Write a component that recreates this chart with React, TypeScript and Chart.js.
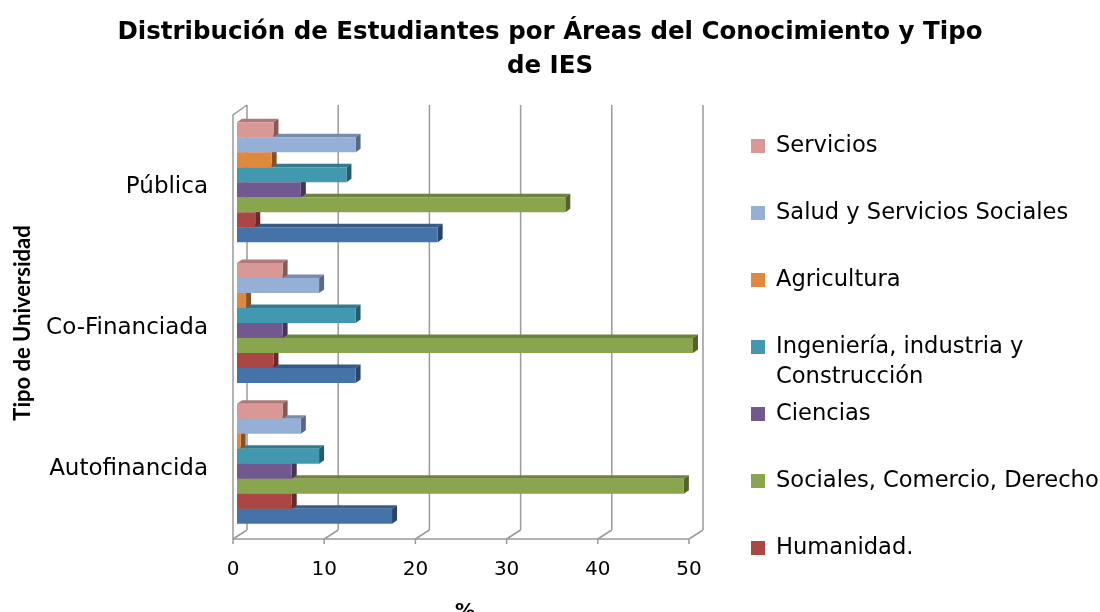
import React, { useEffect, useRef } from 'react';
import { Chart, registerables } from 'chart.js';

Chart.register(...registerables);

// ---- Data ----
const categories = ['Pública', 'Co-Financiada', 'Autofinancida'];
const seriesNames = [
  'Servicios',
  'Salud y Servicios Sociales',
  'Agricultura',
  'Ingeniería, industria y\nConstrucción',
  'Ciencias',
  'Sociales, Comercio, Derecho',
  'Humanidad.',
  'Educación',
];
const servicios = [4, 5, 5];
const salud = [13, 9, 7];
const agricultura = [3.8, 1, 0.4];
const ingenieria = [12, 13, 9];
const ciencias = [7, 5, 6];
const sociales = [36, 50, 49];
const humanidad = [2, 4, 6];
const educacion = [22, 13, 17];
const seriesValues = [servicios, salud, agricultura, ingenieria, ciencias, sociales, humanidad, educacion];
const seriesColors = ['#D99795', '#95AFD6', '#E0883D', '#4198AF', '#71588F', '#89A54E', '#AA4643', '#4572A7'];
const legendCount = 7; // last series' legend entry is cut off in the original
const chartTitle = ['Distribución de Estudiantes por Áreas del Conocimiento y Tipo', 'de IES'];
const yTitle = 'Tipo de Universidad';
const xTitle = '%';

function shade(hex: string, f: number): string {
  const n = parseInt(hex.slice(1), 16);
  const r = Math.round(((n >> 16) & 255) * f);
  const g = Math.round(((n >> 8) & 255) * f);
  const b = Math.round((n & 255) * f);
  return `rgb(${r},${g},${b})`;
}

const excel3d = {
  id: 'excel3d',
  beforeDatasetsDraw(chart: any) {
    const { ctx, chartArea, scales } = chart;
    const x = scales.x;
    const { top, bottom } = chartArea;
    const FX = -4, BX = 10; // front / back plane offsets
    const frontY = bottom + 5, backBottom = bottom - 4, backTop = top - 7, frontTop = top + 3;
    ctx.save();
    ctx.strokeStyle = '#9a9a9a';
    ctx.lineWidth = 1.5;
    const ticks = x.ticks.map((t: any) => t.value);
    ticks.forEach((v: number) => {
      const p = x.getPixelForValue(v);
      ctx.beginPath();
      ctx.moveTo(p + BX, backTop);
      ctx.lineTo(p + BX, backBottom);
      ctx.stroke();
      ctx.beginPath();
      ctx.moveTo(p + FX, frontY);
      ctx.lineTo(p + BX, backBottom);
      ctx.stroke();
      ctx.beginPath();
      ctx.moveTo(p + FX, frontY);
      ctx.lineTo(p + FX, frontY + 5);
      ctx.stroke();
    });
    const p0 = x.getPixelForValue(ticks[0]);
    const pN = x.getPixelForValue(ticks[ticks.length - 1]);
    ctx.beginPath();
    ctx.moveTo(p0 + FX, frontY);
    ctx.lineTo(pN + FX, frontY);
    ctx.stroke();
    ctx.beginPath();
    ctx.moveTo(p0 + FX, frontY);
    ctx.lineTo(p0 + FX, frontTop);
    ctx.lineTo(p0 + BX, backTop);
    ctx.stroke();

    // 3D faces of the bars (drawn before the front faces)
    const dx = 5, dy = 3.5;
    for (let i = chart.data.datasets.length - 1; i >= 0; i--) {
      const meta = chart.getDatasetMeta(i);
      const col = seriesColors[i];
      meta.data.forEach((el: any) => {
        const { x: ex, y: ey, base, height } = el.getProps(['x', 'y', 'base', 'height'], true);
        const t = ey - height / 2;
        const b = ey + height / 2;
        ctx.fillStyle = shade(col, 0.8);
        ctx.beginPath();
        ctx.moveTo(base, t);
        ctx.lineTo(base + dx, t - dy);
        ctx.lineTo(ex + dx, t - dy);
        ctx.lineTo(ex, t);
        ctx.closePath();
        ctx.fill();
        ctx.fillStyle = shade(col, 0.6);
        ctx.beginPath();
        ctx.moveTo(ex, t);
        ctx.lineTo(ex + dx, t - dy);
        ctx.lineTo(ex + dx, b - dy);
        ctx.lineTo(ex, b);
        ctx.closePath();
        ctx.fill();
      });
    }
    ctx.restore();
  },
  afterDraw(chart: any) {
    const { ctx, chartArea, scales } = chart;
    const x = scales.x;
    ctx.save();
    // x tick labels on the front plane
    ctx.fillStyle = '#000';
    ctx.font = '20px "DejaVu Sans"';
    ctx.textAlign = 'center';
    ctx.textBaseline = 'middle';
    x.ticks.forEach((t: any) => {
      ctx.fillText(String(t.label), x.getPixelForValue(t.value) - 4, chartArea.bottom + 36);
    });
    // legend
    const lx = chartArea.right + 58;
    const ly0 = chartArea.top + 34;
    ctx.textAlign = 'left';
    ctx.font = '22.6px "DejaVu Sans"';
    for (let i = 0; i < legendCount; i++) {
      const cy = ly0 + 67 * i;
      ctx.fillStyle = seriesColors[i];
      ctx.fillRect(lx, cy - 7, 14, 14);
      ctx.fillStyle = '#000';
      const lines = seriesNames[i].split('\n');
      lines.forEach((ln, j) => ctx.fillText(ln, lx + 25, cy + j * 30));
    }
    ctx.restore();
  },
};

export default function App() {
  const ref = useRef<HTMLCanvasElement>(null);
  useEffect(() => {
    if (!ref.current) return;
    const chart = new Chart(ref.current, {
      type: 'bar',
      data: {
        labels: categories,
        datasets: seriesValues.map((vals, i) => ({
          label: seriesNames[i],
          data: vals,
          backgroundColor: seriesColors[i],
          borderWidth: 0,
          barPercentage: 1,
          categoryPercentage: 0.853,
        })),
      },
      options: {
        indexAxis: 'y',
        responsive: false,
        animation: false,
        layout: { padding: 0 },
        plugins: {
          legend: { display: false },
          tooltip: { enabled: false },
          title: {
            display: true,
            text: chartTitle,
            color: '#000',
            font: { family: '"DejaVu Sans"', size: 24.5, weight: 'bold', lineHeight: 1.4 },
            padding: { top: 15, bottom: 28.4 },
          },
        },
        scales: {
          x: {
            min: 0,
            max: 50,
            grid: { display: false, drawTicks: false },
            border: { display: false },
            ticks: { display: false, stepSize: 10 },
            title: {
              display: true,
              text: xTitle,
              color: '#000',
              font: { family: '"DejaVu Sans"', size: 20, weight: 'bold' },
              padding: { top: 0, bottom: -12 },
            },
            afterFit: (s: any) => { s.height = 78; },
          },
          y: {
            type: 'category',
            grid: { display: false, drawTicks: false },
            border: { display: false },
            ticks: { color: '#000', font: { family: 'DejaVu Sans', size: 23 }, padding: 29, labelOffset: 5 },
            title: {
              display: true,
              text: yTitle,
              color: '#000',
              font: { family: 'Lato', size: 22, weight: 'bold' },
              padding: { top: 10, bottom: 0 },
            },
            afterFit: (s: any) => { s.width = 237; },
          },
          legendSpace: {
            type: 'linear',
            position: 'right',
            display: true,
            grid: { display: false, drawTicks: false },
            border: { display: false },
            ticks: { display: false },
            afterFit: (s: any) => { s.width = 407; },
          },
        },
      } as any,
      plugins: [excel3d],
    });
    return () => chart.destroy();
  }, []);
  return (
    <div style={{ position: 'absolute', left: 0, top: 0, width: 1100, height: 612, background: '#fff' }}>
      <canvas ref={ref} width={1100} height={612} />
    </div>
  );
}
